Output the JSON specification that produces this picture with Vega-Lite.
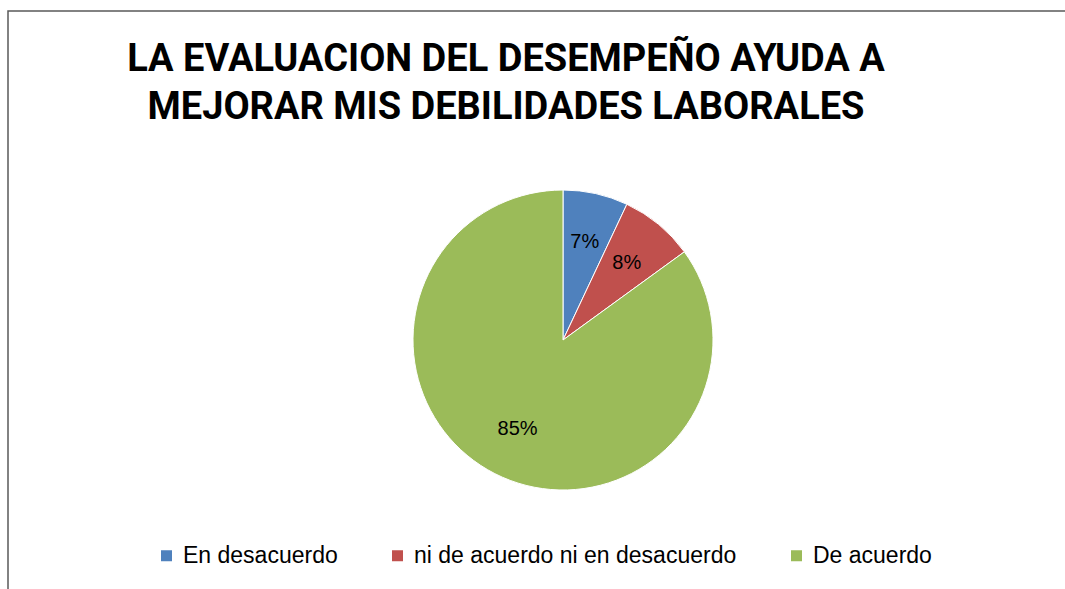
{
  "$schema": "https://vega.github.io/schema/vega-lite/v6.json",
  "width": 1110,
  "height": 658,
  "autosize": {"type": "none"},
  "padding": {"left": 8, "top": 11, "right": -53, "bottom": -80},
  "background": "white",
  "view": {"stroke": "#5a5a5a", "strokeWidth": 1.5},
  "title": {
    "text": ["LA EVALUACION DEL DESEMPEÑO AYUDA A", "MEJORAR MIS DEBILIDADES LABORALES"],
    "font": "Roboto",
    "fontSize": 38,
    "fontWeight": "bold",
    "color": "black",
    "anchor": "middle",
    "baseline": "top",
    "offset": 0,
    "dx": -57,
    "dy": 116,
    "lineHeight": 48
  },
  "data": {
    "values": [
      {"cat": "En desacuerdo", "pct": 7, "label": "7%", "ord": 1},
      {"cat": "ni de acuerdo ni en desacuerdo", "pct": 8, "label": "8%", "ord": 2},
      {"cat": "De acuerdo", "pct": 85, "label": "85%", "ord": 3}
    ]
  },
  "layer": [
    {
      "mark": {"type": "arc", "outerRadius": 150, "stroke": "white", "strokeWidth": 1},
      "encoding": {
        "theta": {"field": "pct", "type": "quantitative", "stack": true},
        "order": {"field": "ord", "type": "quantitative"},
        "color": {
          "field": "cat",
          "type": "nominal",
          "sort": null,
          "scale": {
            "domain": ["En desacuerdo", "ni de acuerdo ni en desacuerdo", "De acuerdo"],
            "range": ["#4F81BD", "#C0504D", "#9BBB59"]
          },
          "legend": {
            "title": null,
            "orient": "none",
            "direction": "horizontal",
            "legendX": 147,
            "legendY": 533,
            "symbolType": "square",
            "symbolSize": 121,
            "symbolStrokeWidth": 0,
            "labelFont": "Liberation Sans",
            "labelFontSize": 23,
            "labelColor": "black",
            "labelLimit": 400,
            "columnPadding": 48,
            "labelOffset": 5
          }
        }
      }
    },
    {
      "mark": {"type": "text", "radius": 100, "font": "Liberation Sans", "fontSize": 20, "color": "black"},
      "encoding": {
        "theta": {"field": "pct", "type": "quantitative", "stack": true},
        "order": {"field": "ord", "type": "quantitative"},
        "text": {"field": "label", "type": "nominal"}
      }
    }
  ]
}
